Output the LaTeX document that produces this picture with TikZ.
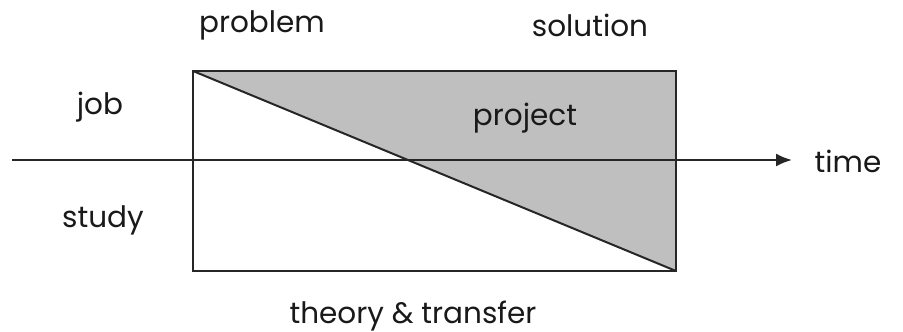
\documentclass[tikz,border=0pt]{standalone}
\usepackage{fontspec}
\setmainfont{Poppins}
\usetikzlibrary{arrows.meta}
\begin{document}
\begin{tikzpicture}[x=1pt,y=-1pt,
  lbl/.style={font=\fontsize{29.5}{34}\selectfont, text=black!90, inner sep=0pt},
  edge/.style={line width=2pt, black!85}]
\useasboundingbox (0,0) rectangle (903,332);
\coordinate (tl) at (193,71);
\coordinate (tr) at (676,71);
\coordinate (br) at (676,271);
\coordinate (bl) at (193,271);
\fill[black!25] (tl) -- (tr) -- (br) -- cycle;
\draw[edge] (tl) -- (br);
\draw[edge] (tl) rectangle (br);
\coordinate (as) at (12,160);
\coordinate (ae) at (792,160);
\draw[edge, -{Latex[length=16pt,width=13pt]}] (as) -- (ae);
\node[lbl] (problem) at (262,25) {problem};
\node[lbl] (solution) at (590,25) {solution};
\node[lbl] (job) at (100,107) {job};
\node[lbl] (project) at (525,118) {project};
\node[lbl] (time) at (848,161) {time};
\node[lbl] (study) at (103,220) {study};
\node[lbl] (theory) at (413,316) {theory \& transfer};
\end{tikzpicture}
\end{document}
